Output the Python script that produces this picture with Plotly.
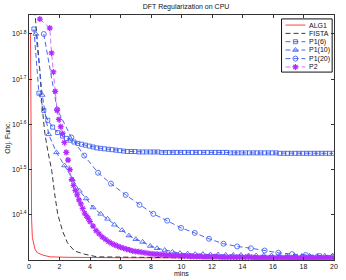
import numpy as np
import plotly.graph_objects as go

# ---- data (y values stored as log10 exponents) ----
alg1_x = [0.10, 0.12, 0.14, 0.17, 0.22, 0.30, 0.39, 0.55, 0.90, 1.36, 2.50, 6.00, 12.00, 20.00]
alg1_log10 = [1.800, 1.600, 1.450, 1.390, 1.350, 1.333, 1.324, 1.316, 1.311, 1.307, 1.306, 1.305, 1.304, 1.304]

fista_x = [0.33, 0.52, 0.71, 0.84, 0.97, 1.04, 1.23, 1.49, 1.68, 1.88, 2.20, 2.52, 2.98, 3.62, 4.47, 6.00, 10.00, 15.00, 20.00]
fista_log10 = [1.870, 1.800, 1.720, 1.647, 1.602, 1.580, 1.542, 1.498, 1.447, 1.402, 1.364, 1.338, 1.320, 1.313, 1.307, 1.306, 1.305, 1.305, 1.305]

p1_6_x = [0.32, 0.65, 0.97, 1.23, 1.55, 1.88, 2.20, 2.45, 2.70, 2.95,
          3.20, 3.45, 3.70, 3.95, 4.20, 4.45, 4.70, 4.95, 5.20, 5.45,
          5.70, 5.95, 6.20, 6.45, 6.70, 6.95, 7.20, 7.45, 7.70, 7.95,
          8.20, 8.45, 8.70, 8.95, 9.20, 9.45, 9.70, 9.95, 10.20, 10.45,
          10.70, 10.95, 11.20, 11.45, 11.70, 11.95, 12.20, 12.45, 12.70, 12.95,
          13.20, 13.45, 13.70, 13.95, 14.20, 14.45, 14.70, 14.95, 15.20, 15.45,
          15.70, 15.95, 16.20, 16.45, 16.70, 16.95, 17.20, 17.45, 17.70, 17.95,
          18.20, 18.45, 18.70, 18.95, 19.20, 19.45, 19.70, 19.95]
p1_6_log10 = [1.811, 1.669, 1.631, 1.609, 1.594, 1.582, 1.574, 1.569, 1.565, 1.561,
              1.558, 1.556, 1.554, 1.552, 1.550, 1.548, 1.547, 1.546, 1.545, 1.544,
              1.543, 1.542, 1.541, 1.540, 1.540, 1.540, 1.539, 1.539, 1.539, 1.539,
              1.539, 1.539, 1.538, 1.538, 1.538, 1.538, 1.538, 1.538, 1.538, 1.538,
              1.538, 1.538, 1.538, 1.538, 1.538, 1.538, 1.538, 1.538, 1.538, 1.538,
              1.537, 1.537, 1.537, 1.537, 1.537, 1.537, 1.537, 1.537, 1.537, 1.537,
              1.537, 1.537, 1.537, 1.536, 1.536, 1.536, 1.536, 1.536, 1.536, 1.536,
              1.536, 1.536, 1.536, 1.536, 1.536, 1.536, 1.536, 1.536]

p1_10_x = [0.45, 0.87, 1.29, 1.80, 2.33, 2.85, 3.30, 3.75, 4.20, 4.70,
           5.15, 5.60, 6.10, 6.55, 7.00, 7.45, 7.95, 8.40, 8.90, 9.40,
           9.90, 10.40, 10.90, 11.40, 11.90, 12.40, 12.90, 13.40, 13.90, 14.40,
           14.90, 15.40, 15.90, 16.40, 16.90, 17.40, 17.90, 18.40, 18.90, 19.40,
           19.90]
p1_10_log10 = [1.800, 1.665, 1.578, 1.538, 1.509, 1.478, 1.453, 1.436, 1.416, 1.402,
               1.391, 1.378, 1.366, 1.354, 1.346, 1.340, 1.331, 1.326, 1.322, 1.318,
               1.315, 1.314, 1.313, 1.313, 1.312, 1.312, 1.311, 1.311, 1.311, 1.310,
               1.310, 1.310, 1.310, 1.309, 1.309, 1.309, 1.309, 1.309, 1.309, 1.309,
               1.309]

p1_20_x = [0.97, 1.85, 2.78, 3.62, 4.53, 5.37, 6.34, 7.25, 8.15, 9.06,
           9.97, 10.87, 11.80, 12.75, 13.65, 14.55, 15.45, 16.35, 17.25, 18.15,
           19.05, 19.95]
p1_20_log10 = [1.800, 1.633, 1.571, 1.531, 1.493, 1.469, 1.444, 1.422, 1.402, 1.387,
               1.371, 1.360, 1.347, 1.336, 1.330, 1.326, 1.321, 1.316, 1.313, 1.311,
               1.309, 1.308]

p2_x = [0.71, 1.36, 1.48, 1.60, 1.72, 1.84, 1.96, 2.08, 2.20, 2.32,
        2.44, 2.56, 2.68, 2.80, 2.92, 3.04, 3.16, 3.28, 3.40, 3.52,
        3.64, 3.76, 3.88, 4.00, 4.20, 4.40, 4.60, 4.80, 5.00, 5.20,
        5.40, 5.60, 5.80, 6.00, 6.20, 6.40, 6.60, 6.80, 7.00, 7.20,
        7.40, 7.60, 7.80, 8.00, 8.20, 8.40, 8.60, 8.80, 9.00, 9.20,
        9.40, 9.60, 9.80, 10.00, 10.20, 10.40, 10.60, 10.80, 11.00, 11.20,
        11.40, 11.60, 11.80, 12.00, 12.20, 12.40, 12.60, 12.80, 13.00, 13.20,
        13.40, 13.60, 13.80, 14.00, 14.20, 14.40, 14.60, 14.80, 15.00, 15.20,
        15.40, 15.60, 15.80, 16.00, 16.20, 16.40, 16.60, 16.80, 17.00, 17.20,
        17.40, 17.60, 17.80, 18.00, 18.20, 18.40, 18.60, 18.80, 19.00, 19.20,
        19.40, 19.60, 19.80, 20.00]
p2_log10 = [1.833, 1.813, 1.758, 1.716, 1.673, 1.631, 1.611, 1.595, 1.580, 1.560,
            1.538, 1.521, 1.500, 1.478, 1.465, 1.454, 1.444, 1.433, 1.424, 1.414,
            1.404, 1.398, 1.392, 1.385, 1.375, 1.365, 1.358, 1.351, 1.346, 1.341,
            1.337, 1.334, 1.331, 1.328, 1.326, 1.324, 1.322, 1.320, 1.319, 1.318,
            1.317, 1.316, 1.315, 1.314, 1.313, 1.313, 1.312, 1.312, 1.311, 1.311,
            1.310, 1.310, 1.310, 1.309, 1.309, 1.309, 1.308, 1.308, 1.308, 1.308,
            1.307, 1.307, 1.307, 1.307, 1.307, 1.307, 1.306, 1.306, 1.306, 1.306,
            1.306, 1.306, 1.306, 1.306, 1.306, 1.306, 1.306, 1.305, 1.305, 1.305,
            1.305, 1.305, 1.305, 1.305, 1.305, 1.305, 1.305, 1.305, 1.305, 1.305,
            1.305, 1.305, 1.305, 1.305, 1.305, 1.305, 1.305, 1.305, 1.305, 1.305,
            1.305, 1.305, 1.305, 1.305]

x_ticks = [0, 2, 4, 6, 8, 10, 12, 14, 16, 18, 20]
y_tick_exps = [1.4, 1.5, 1.6, 1.7, 1.8]
series_names = ["ALG1", "FISTA", "P1(6)", "P1(10)", "P1(20)", "P2"]

# ---- styles ----
FONT = "Liberation Sans, Arial, Helvetica, sans-serif"
RED = "#ff2a2a"
BLACK = "#222222"
BLUE = "#3355ee"
PURPLE = "#b02cff"
DASH = "5px,3px"

series = [
    (alg1_x, alg1_log10, RED, "solid", None, 0),
    (fista_x, fista_log10, BLACK, DASH, None, 0),
    (p1_6_x, p1_6_log10, BLUE, DASH, "square-open", 4),
    (p1_10_x, p1_10_log10, BLUE, DASH, "triangle-up-open", 5),
    (p1_20_x, p1_20_log10, BLUE, DASH, "circle-open", 5),
    (p2_x, p2_log10, "#d060ff", DASH, "asterisk-open", 5),
]

fig = go.Figure()
for (xs, ls, col, dash, sym, sz), name in zip(series, series_names):
    ys = 10 ** np.array(ls)
    mode = "lines+markers" if sym else "lines"
    mcol = PURPLE if name == "P2" else col
    fig.add_trace(go.Scatter(
        x=xs, y=ys, mode=mode, name=name, showlegend=False,
        line=dict(color=col, width=0.9, dash=dash),
        marker=dict(symbol=sym or "circle", size=sz, color=mcol,
                    line=dict(color=mcol, width=1.2 if name == "P2" else 0.8)),
    ))

# ---- custom legend (compact, MATLAB style) ----
lx0, lx1, ly0, ly1 = 0.828, 0.994, 0.767, 0.984
fig.add_shape(type="rect", xref="paper", yref="paper", x0=lx0, x1=lx1, y0=ly0, y1=ly1,
              line=dict(color="#111", width=1), fillcolor="white", layer="below")
entry_y = [0.959, 0.925, 0.891, 0.857, 0.822, 0.788]
for (xs, ls, col, dash, sym, sz), name, ey in zip(series, series_names, entry_y):
    mcol = PURPLE if name == "P2" else col
    fig.add_trace(go.Scatter(
        x=[0.841, 0.906], y=[ey, ey], xaxis="x2", yaxis="y2", mode="lines",
        line=dict(color=col, width=0.9, dash=dash), showlegend=False, hoverinfo="skip"))
    if sym:
        fig.add_trace(go.Scatter(
            x=[0.8735], y=[ey], xaxis="x2", yaxis="y2", mode="markers",
            marker=dict(symbol=sym, size=sz, color=mcol,
                        line=dict(color=mcol, width=1.2 if name == "P2" else 0.8)),
            showlegend=False, hoverinfo="skip"))
    fig.add_annotation(x=0.913, y=ey, xref="paper", yref="paper", text=name,
                       showarrow=False, xanchor="left", yanchor="middle",
                       font=dict(family=FONT, size=7, color="#111"))

# axis titles
fig.add_annotation(x=0.5, y=-0.057, xref="paper", yref="paper", text="mins",
                   showarrow=False, xanchor="center", yanchor="middle",
                   font=dict(family=FONT, size=7, color="#111"))
fig.add_annotation(x=-0.071, y=0.5, xref="paper", yref="paper", text="Obj. Func.",
                   showarrow=False, textangle=-90, xanchor="center", yanchor="middle",
                   font=dict(family=FONT, size=7, color="#111"))

axis_common = dict(showline=True, linecolor="#333", linewidth=1, mirror="allticks",
                   ticks="inside", ticklen=3, tickcolor="#333", showgrid=False,
                   zeroline=False, tickfont=dict(family=FONT, size=7, color="#111"))

fig.update_layout(
    width=346, height=280,
    margin=dict(l=29, r=8, t=15, b=20),
    paper_bgcolor="white", plot_bgcolor="white",
    title=dict(text="DFT Regularization on CPU", x=0.515, xref="paper",
               y=1 - 7 / 280, yref="container", xanchor="center", yanchor="middle",
               font=dict(family=FONT, size=7, color="#111")),
    xaxis=dict(range=[0, 20], tickvals=x_ticks, ticktext=[str(v) for v in x_ticks],
               **axis_common),
    yaxis=dict(type="log", range=[1.3, 1.842],
               tickvals=[10 ** e for e in y_tick_exps],
               ticktext=["10<sup>%g</sup>" % e for e in y_tick_exps],
               **axis_common),
    xaxis2=dict(overlaying="x", range=[0, 1], visible=False),
    yaxis2=dict(overlaying="y", range=[0, 1], visible=False),
    showlegend=False,
)

# remove the page's default body margin so the figure fills the window exactly
fig.write_html("out.html",
               config={"displayModeBar": False},
               post_script="document.body.style.margin='0';document.body.style.padding='0';")
